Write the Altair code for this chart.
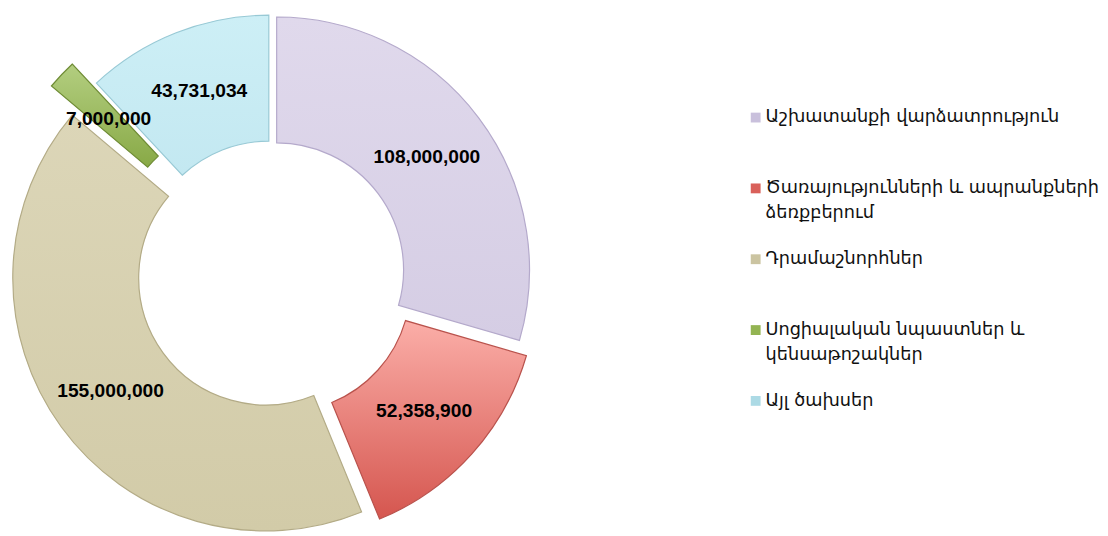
import math
import altair as alt
import pandas as pd

# ---- data ----
categories = [
    "Աշխատանքի վարձատրություն",
    "Ծառայությունների և ապրանքների ձեռքբերում",
    "Դրամաշնորհներ",
    "Սոցիալական նպաստներ և կենսաթոշակներ",
    "Այլ ծախսեր",
]
values = [108000000, 52358900, 155000000, 7000000, 43731034]
order = [0, 1, 2, 3, 4]

# wrapped legend labels
legend_lines = {
    categories[1]: ["Ծառայությունների և ապրանքների", "ձեռքբերում"],
    categories[3]: ["Սոցիալական նպաստներ և", "կենսաթոշակներ"],
}

# ---- styles ----
explode = [7, 17, 7, 37, 6.5]
label_radius = [191, 192, 195, 191, 193]
top_colors = ["#e0d9ec", "#fbaea8", "#dcd6b8", "#b3ce80", "#cdeff6"]
bottom_colors = ["#d5cde4", "#d5564f", "#d2cba8", "#88a946", "#c3e8f1"]
stroke_colors = ["#b4a9cb", "#b9524c", "#b3ab86", "#6f8c35", "#98c9d5"]
legend_colors = ["#c9c0dc", "#d9605a", "#cbc4a1", "#93b452", "#acdae5"]

total = sum(values)
W, H = 535, 524
INNER, OUTER = 129, 257

df = pd.DataFrame({"cat": categories, "value": values, "order": order})

theta_scale = alt.Scale(domain=[0, total], range=[0, 2 * math.pi])

base = (
    alt.Chart(df)
    .transform_window(cum="sum(value)", sort=[alt.SortField("order")], frame=[None, 0])
    .transform_calculate(
        start="datum.cum - datum.value",
        end="datum.cum",
        mid="datum.cum - datum.value / 2",
    )
)

label_expr = "datum.label"
for k, lines in legend_lines.items():
    arr = "[" + ", ".join("'" + s + "'" for s in lines) + "]"
    label_expr = f"datum.label == '{k}' ? {arr} : ({label_expr})"

legend_layer = base.mark_arc(innerRadius=0, outerRadius=0).encode(
    theta=alt.Theta("start:Q", stack=None, scale=theta_scale),
    theta2="end:Q",
    color=alt.Color(
        "cat:N",
        sort=categories,
        scale=alt.Scale(domain=categories, range=legend_colors),
        legend=alt.Legend(
            title=None,
            orient="none",
            legendX=751,
            legendY=94,
            symbolType="square",
            symbolSize=100,
            symbolStrokeWidth=0,
            labelFont="DejaVu Sans",
            labelFontSize=18,
            labelColor="#111111",
            labelLimit=400,
            labelOffset=1,
            gridAlign="all",
            rowPadding=29,
            padding=0,
            labelExpr=label_expr,
        ),
    ),
)

layers = [legend_layer]
text_layers = []
cum = 0
for i, (c, v) in enumerate(zip(categories, values)):
    mid_ang = 2 * math.pi * (cum + v / 2) / total
    cum += v
    dx = explode[i] * math.sin(mid_ang)
    dy = -explode[i] * math.cos(mid_ang)
    sub = base.transform_filter(alt.datum.cat == c)
    grad = alt.LinearGradient(
        gradient="linear",
        stops=[
            alt.GradientStop(offset=0, color=top_colors[i]),
            alt.GradientStop(offset=1, color=bottom_colors[i]),
        ],
        x1=0, x2=0, y1=0, y2=1,
    )
    arc = sub.mark_arc(
        innerRadius=INNER,
        outerRadius=OUTER,
        xOffset=dx,
        yOffset=dy,
        fill=grad,
        stroke=stroke_colors[i],
        strokeWidth=1.2,
    ).encode(
        theta=alt.Theta("start:Q", stack=None, scale=theta_scale),
        theta2="end:Q",
    )
    txt = sub.mark_text(
        radius=label_radius[i],
        xOffset=dx,
        yOffset=dy,
        font="Liberation Sans",
        fontWeight="bold",
        fontSize=19.5,
        color="#000000",
    ).encode(
        theta=alt.Theta("mid:Q", stack=None, scale=theta_scale),
        text=alt.Text("value:Q", format=","),
    )
    layers.append(arc)
    text_layers.append(txt)

chart = (
    alt.layer(*layers, *text_layers)
    .properties(width=W, height=H, background="white", padding=0)
    .configure_view(stroke=None)
    .configure(style={"guide-label": {"lineHeight": 25}})
)

chart.save("out.html", embed_options={"renderer": "svg", "actions": False})
